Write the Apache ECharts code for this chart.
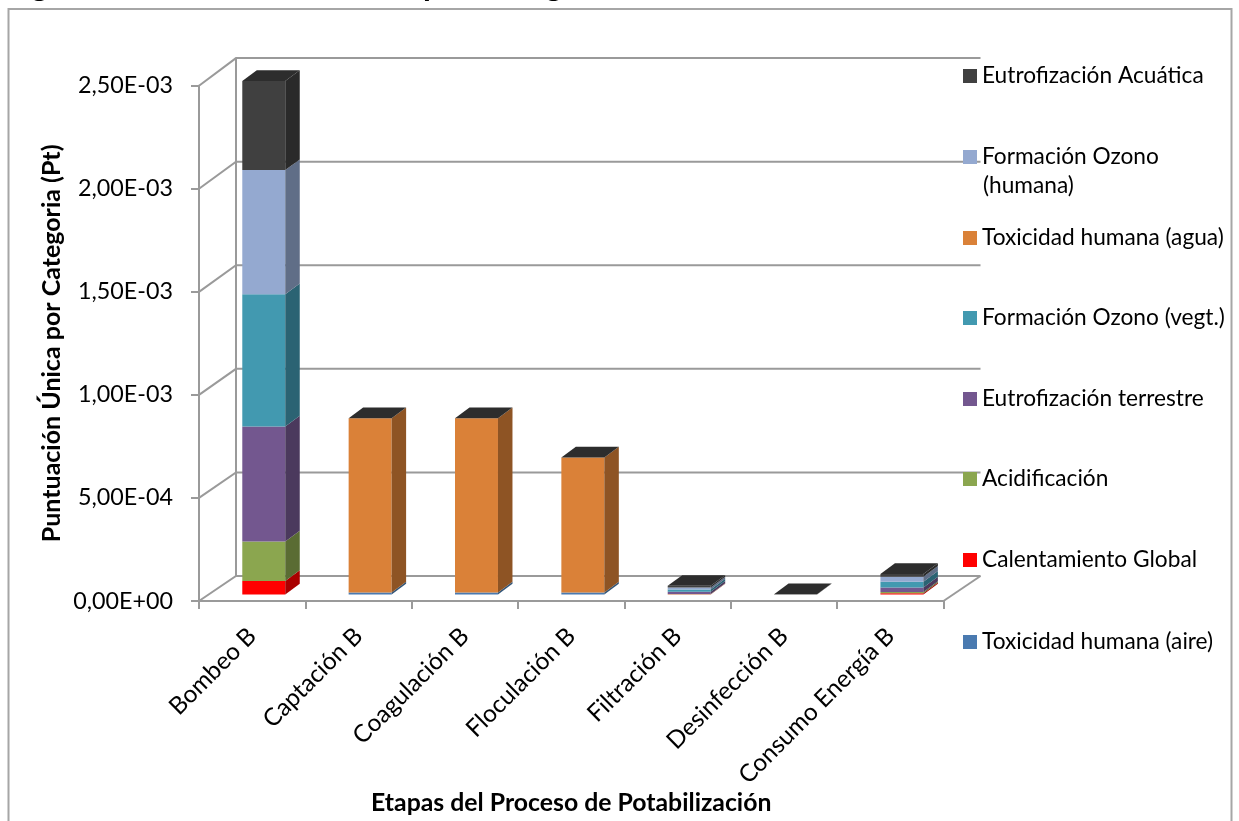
<!DOCTYPE html>
<html>
<head>
<meta charset="utf-8">
<style>
  html, body { margin: 0; padding: 0; background: #fff; }
  #chart { width: 1239px; height: 821px; }
</style>
<script src="https://cdn.jsdelivr.net/npm/echarts@6/dist/echarts.min.js"></script>
</head>
<body>
<div id="chart"></div>
<script>
// Etapas del proceso y puntuación única por categoría de impacto (Pt)
const etapas = ['Bombeo B', 'Captación B', 'Coagulación B', 'Floculación B', 'Filtración B', 'Desinfección B', 'Consumo Energía B'];
const toxicidadAire      = [0,       1e-5,   1e-5,   1e-5,   0,    0, 0];
const calentamiento      = [6.6e-5,  0,      0,      0,      1e-6, 0, 6e-6];
const acidificacion      = [1.91e-4, 0,      0,      0,      2e-6, 0, 6e-6];
const eutrofTerrestre    = [5.58e-4, 0,      0,      0,      1e-5, 0, 2.2e-5];
const ozonoVegetacion    = [6.42e-4, 0,      0,      0,      1.1e-5, 0, 2.8e-5];
const toxicidadAgua      = [0,       8.45e-4, 8.45e-4, 6.55e-4, 0,  0, 0];
const ozonoHumana        = [6.02e-4, 0,      0,      0,      1e-5, 0, 2.4e-5];
const eutrofAcuatica     = [4.32e-4, 0,      0,      0,      8e-6, 1e-6, 1.4e-5];
const marcasEje = ['0,00E+00', '5,00E-04', '1,00E-03', '1,50E-03', '2,00E-03', '2,50E-03'];
const valoresEje = [0, 0.0005, 0.001, 0.0015, 0.002, 0.0025];

const capas = [
  { name: 'Toxicidad humana (aire)', valores: toxicidadAire,   color: '#4a7ab0', lateral: '#335577', leyendaY: 641 },
  { name: 'Calentamiento Global',    valores: calentamiento,   color: '#ff0000', lateral: '#aa0000', leyendaY: 559 },
  { name: 'Acidificación',           valores: acidificacion,   color: '#8ba64f', lateral: '#5a6c33', leyendaY: 478 },
  { name: 'Eutrofización terrestre', valores: eutrofTerrestre, color: '#73578f', lateral: '#4b395d', leyendaY: 398 },
  { name: 'Formación Ozono (vegt.)', valores: ozonoVegetacion, color: '#4299b0', lateral: '#2b6373', leyendaY: 317 },
  { name: 'Toxicidad humana (agua)', valores: toxicidadAgua,   color: '#da8138', lateral: '#8e5424', leyendaY: 237 },
  { name: 'Formación Ozono (humana)', valores: ozonoHumana,    color: '#94a9d0', lateral: '#606e87', leyendaY: 156 },
  { name: 'Eutrofización Acuática',  valores: eutrofAcuatica,  color: '#404040', lateral: '#2a2a2a', leyendaY: 75 }
];

// Geometría de la perspectiva: pared y suelo detrás del plano de los ejes
const fondoX = 37, fondoY = -25, estiramiento = 0.005;
const baseY = -6.5, anchoBanda = 0.404, margenBanda = 0.407, cajaX = 14.5, cajaY = -10.7;
const gris = '#9a9a9a';
const fuente = 'Lato';

const acumulado = etapas.map(() => 0);
const seriesCapas = capas.map((capa, indice) => {
  const datos = capa.valores.map((v, i) => {
    const inicio = acumulado[i];
    acumulado[i] += v;
    return [i, inicio, acumulado[i]];
  });
  const esUltima = indice === capas.length - 1;
  return {
    type: 'custom',
    name: capa.name,
    itemStyle: { color: capa.color },
    z: 5,
    silent: true,
    encode: { x: 0, y: [1, 2] },
    data: datos,
    renderItem(params, api) {
      const i = api.value(0);
      const inf = api.coord([i, api.value(1)]);
      const sup = api.coord([i, api.value(2)]);
      const banda = api.size([1, 0])[0];
      const x1 = inf[0] - banda / 2 + banda * margenBanda;
      const x2 = x1 + banda * anchoBanda;
      const y1 = inf[1] + baseY, y2 = sup[1] + baseY;
      const hijos = [];
      if (y1 - y2 > 0.01) {
        hijos.push({ type: 'rect', shape: { x: x1, y: y2, width: x2 - x1, height: y1 - y2 }, style: { fill: capa.color } });
        hijos.push({ type: 'polygon', shape: { points: [[x2, y1], [x2 + cajaX, y1 + cajaY], [x2 + cajaX, y2 + cajaY], [x2, y2]] }, style: { fill: capa.lateral } });
      }
      if (esUltima) {
        hijos.push({ type: 'polygon', shape: { points: [[x1, y2], [x2, y2], [x2 + cajaX, y2 + cajaY], [x1 + cajaX, y2 + cajaY]] }, style: { fill: '#2d2d2d' } });
      }
      return { type: 'group', children: hijos };
    }
  };
});

// Pared del fondo y suelo, dibujados desde las escalas de los ejes
const seriePared = {
  type: 'custom',
  silent: true,
  z: 1,
  data: valoresEje.map(v => [0, v]),
  encode: { x: 0, y: 1 },
  renderItem(params, api) {
    const v = api.value(1);
    const banda = api.size([1, 0])[0];
    const p = api.coord([0, v]);
    const base = api.coord([0, 0]);
    const xIzq = p[0] - banda / 2;
    const xDer = xIzq + banda * etapas.length;
    const yFondo = p[1] + fondoY - (base[1] - p[1]) * estiramiento;
    const linea = { stroke: gris, lineWidth: 2, fill: null };
    const hijos = [
      { type: 'polyline', shape: { points: [[xIzq, p[1]], [xIzq + fondoX, yFondo], [xDer + fondoX, yFondo]] }, style: linea }
    ];
    if (v === 0) {
      hijos.push({ type: 'line', shape: { x1: xDer, y1: p[1], x2: xDer + fondoX, y2: yFondo }, style: linea });
    }
    if (v === valoresEje[valoresEje.length - 1]) {
      hijos.push({ type: 'line', shape: { x1: xIzq + fondoX, y1: yFondo, x2: xIzq + fondoX, y2: base[1] + fondoY }, style: linea });
    }
    return { type: 'group', children: hijos };
  }
};

const option = {
  animation: false,
  backgroundColor: '#fff',
  textStyle: { fontFamily: fuente },
  grid: { left: 199, top: 85.7, width: 744.5, height: 515.3, containLabel: false, outerBoundsMode: 'none' },
  title: {
    text: 'Figura 1. Puntuación Única B por Categoría',
    left: 0,
    top: -35.5,
    textStyle: { fontFamily: fuente, fontWeight: 'bold', fontSize: 32, color: '#000' }
  },
  graphic: [{
    type: 'rect',
    z: -1,
    silent: true,
    shape: { x: 8.5, y: 9, width: 1223, height: 830 },
    style: { fill: '#fff', stroke: '#a6a6a6', lineWidth: 2 }
  }, {
    // Segunda línea de la entrada de leyenda que no cabe en una sola
    type: 'text',
    silent: true,
    z: 10,
    x: 983,
    y: 186,
    style: { text: '(humana)', font: '22.7px ' + fuente, fill: '#000', verticalAlign: 'middle' }
  }],
  legend: capas.map(capa => ({
    data: [capa.name],
    orient: 'vertical',
    left: 963,
    top: capa.leyendaY - 13,
    icon: 'rect',
    itemWidth: 14,
    itemHeight: 14,
    itemGap: 0,
    padding: 0,
    selectedMode: false,
    formatter: nombre => nombre.replace(' (humana)', ''),
    textStyle: { fontFamily: fuente, fontSize: 22.7, color: '#000', lineHeight: 28 }
  })),
  xAxis: {
    type: 'category',
    data: etapas,
    name: 'Etapas del Proceso de Potabilización',
    nameLocation: 'middle',
    nameGap: 190,
    nameMoveOverlap: false,
    nameTextStyle: { fontFamily: fuente, fontWeight: 'bold', fontSize: 24.8, color: '#000' },
    axisLine: { onZero: false, lineStyle: { color: gris, width: 2 } },
    axisTick: { show: true, length: 8, alignWithLabel: false, lineStyle: { color: gris, width: 2 } },
    axisLabel: { interval: 0, rotate: 45, margin: 31, fontFamily: fuente, fontSize: 24.3, color: '#000' },
    splitLine: { show: false }
  },
  yAxis: {
    type: 'value',
    min: 0,
    max: 0.0025,
    interval: 0.0005,
    name: 'Puntuación Única por Categoria (Pt)',
    nameLocation: 'middle',
    nameRotate: 90,
    nameGap: 135,
    nameMoveOverlap: false,
    nameTextStyle: { fontFamily: fuente, fontWeight: 'bold', fontSize: 25, color: '#000' },
    axisLine: { show: true, lineStyle: { color: gris, width: 2 } },
    axisTick: { show: true, length: 8, lineStyle: { color: gris, width: 2 } },
    axisLabel: {
      margin: 26,
      padding: [5, 0, 0, 0],
      fontFamily: fuente,
      fontSize: 23.3,
      color: '#000',
      formatter: v => marcasEje[Math.round(v / 0.0005)]
    },
    splitLine: { show: false }
  },
  series: [seriePared].concat(seriesCapas)
};

const grafico = echarts.init(document.getElementById('chart'), null, { renderer: 'canvas' });
grafico.setOption(option);
</script>
</body>
</html>
